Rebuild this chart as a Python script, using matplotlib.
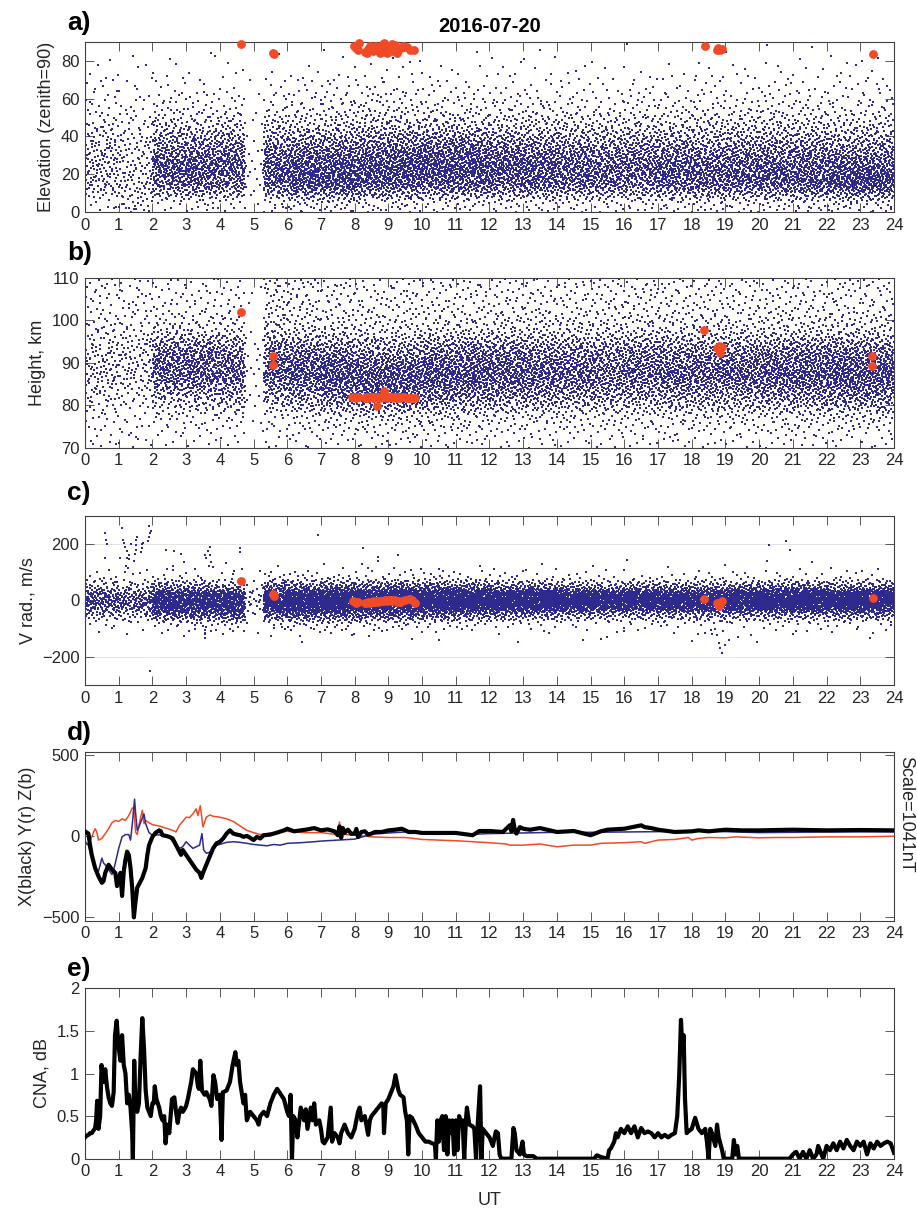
import numpy as np
import matplotlib
matplotlib.use("Agg")
import matplotlib.pyplot as plt

plt.rcParams['font.family'] = ['Liberation Sans', 'DejaVu Sans']

# ---------------- data ----------------
hours = list(range(0, 25))
title = "2016-07-20"

# blue point clouds: counts of points per (time bin, value bin)
cloud_time_edges = [0, 1, 2, 3, 4, 4.75, 5.3, 6, 7, 8, 9, 10, 11, 12, 13, 14, 15, 16,
                    17, 18, 19, 20, 21, 22, 23, 24]

a_elev_edges = [0, 10, 20, 30, 40, 50, 60, 70, 80, 90]
a_counts = [  # rows: elevation bins (low -> high); columns: time bins
    [10, 28, 10, 16, 8, 1, 13, 23, 23, 20, 20, 16, 16, 16, 16, 16, 16, 16, 18, 21, 18, 18, 21, 23, 23],
    [48, 32, 105, 120, 82, 6, 90, 158, 165, 150, 142, 135, 135, 128, 128, 120, 112, 112, 120, 128, 128, 135, 150, 172, 172],
    [48, 32, 135, 142, 98, 6, 98, 158, 158, 150, 158, 165, 158, 150, 142, 128, 120, 120, 128, 120, 128, 128, 135, 135, 128],
    [40, 26, 84, 91, 70, 4, 63, 98, 101, 105, 112, 119, 112, 98, 91, 84, 77, 84, 84, 77, 84, 84, 84, 77, 77],
    [24, 18, 42, 36, 30, 2, 30, 38, 42, 48, 48, 48, 42, 42, 42, 38, 36, 36, 36, 38, 38, 42, 36, 34, 36],
    [14, 10, 18, 15, 12, 2, 12, 18, 20, 22, 20, 18, 18, 18, 18, 16, 15, 16, 16, 18, 16, 18, 18, 15, 16],
    [8, 6, 8, 7, 6, 1, 6, 9, 10, 12, 10, 8, 8, 8, 8, 8, 7, 8, 8, 9, 8, 9, 9, 8, 9],
    [4, 4, 3, 2, 2, 1, 2, 3, 4, 5, 4, 3, 3, 4, 4, 3, 3, 3, 3, 4, 3, 4, 4, 4, 4],
    [1, 1, 1, 1, 0, 0, 1, 1, 1, 1, 1, 1, 1, 1, 1, 1, 0, 1, 0, 1, 1, 1, 1, 1, 1],
]

b_height_edges = [70, 75, 80, 85, 90, 95, 100, 105, 110]
b_counts = [
    [10, 10, 8, 8, 6, 1, 6, 10, 10, 12, 12, 12, 12, 10, 10, 10, 10, 10, 10, 10, 10, 10, 10, 10, 10],
    [14, 12, 18, 18, 14, 2, 14, 24, 30, 34, 36, 34, 30, 26, 26, 24, 24, 24, 26, 26, 26, 26, 30, 30, 30],
    [30, 22, 60, 68, 60, 4, 52, 90, 120, 142, 142, 120, 112, 105, 98, 90, 82, 82, 90, 90, 90, 98, 105, 112, 112],
    [45, 38, 135, 142, 105, 6, 98, 165, 172, 165, 165, 172, 165, 158, 150, 135, 128, 135, 142, 142, 150, 158, 165, 172, 172],
    [38, 38, 120, 128, 75, 4, 82, 120, 112, 90, 90, 112, 120, 112, 105, 98, 98, 105, 105, 105, 105, 112, 120, 120, 120],
    [22, 22, 36, 30, 24, 2, 30, 36, 34, 30, 30, 34, 34, 36, 36, 34, 34, 36, 34, 34, 34, 36, 36, 34, 34],
    [15, 15, 15, 15, 12, 2, 20, 22, 20, 18, 18, 18, 18, 20, 20, 20, 20, 20, 20, 20, 18, 20, 20, 20, 20],
    [15, 15, 12, 12, 10, 2, 20, 20, 18, 16, 16, 16, 16, 16, 16, 16, 18, 18, 16, 16, 16, 16, 16, 16, 16],
]

c_vel_edges = [-150, -100, -60, -30, 0, 30, 60, 100, 150]
c_counts = [
    [1, 1, 1, 2, 1, 0, 1, 2, 2, 1, 1, 1, 1, 1, 1, 1, 1, 1, 1, 3, 1, 1, 1, 1, 1],
    [6, 5, 12, 16, 14, 1, 10, 18, 18, 15, 14, 12, 10, 8, 7, 6, 6, 6, 6, 9, 7, 7, 7, 7, 7],
    [32, 26, 72, 80, 68, 4, 52, 85, 85, 78, 78, 72, 65, 58, 52, 46, 42, 43, 46, 52, 49, 49, 52, 52, 52],
    [68, 60, 135, 142, 105, 9, 98, 165, 172, 172, 172, 172, 172, 172, 172, 158, 150, 153, 153, 150, 158, 165, 168, 172, 172],
    [68, 60, 128, 125, 85, 9, 98, 158, 165, 172, 172, 180, 172, 172, 172, 158, 150, 155, 153, 150, 158, 168, 172, 177, 177],
    [29, 23, 49, 44, 27, 4, 43, 58, 62, 62, 65, 65, 62, 55, 52, 47, 43, 46, 47, 48, 49, 52, 52, 52, 52],
    [8, 6, 8, 7, 5, 1, 9, 10, 10, 10, 10, 10, 9, 7, 6, 6, 5, 5, 5, 7, 6, 6, 6, 6, 6],
    [1, 1, 1, 1, 1, 0, 1, 1, 1, 1, 1, 1, 1, 1, 1, 1, 1, 1, 1, 1, 1, 1, 1, 1, 1],
]
# isolated blue points in panel c (hour, m/s)
c_outliers = [(0.6, 240), (0.62, 215), (0.65, 200), (0.6, 150), (1.1, 255), (1.12, 215),
              (1.15, 205), (1.2, 190), (1.25, 175), (1.25, 150), (1.22, 120), (1.18, 100),
              (1.3, 145), (1.3, 160), (1.35, 200), (1.45, 140), (1.48, 165), (1.5, 180),
              (1.52, 195), (1.55, 225), (1.5, 215), (1.65, 170), (1.68, 185), (1.7, 200),
              (1.72, 205), (1.88, 210), (1.9, 225), (1.92, 240), (1.9, 262), (1.95, 245),
              (1.93, -250), (2.4, 178), (2.65, 175), (2.6, 120), (2.85, 165), (2.95, 135),
              (3.25, 110), (3.55, 160), (3.6, 150), (3.65, 175), (3.7, 190), (3.7, 160),
              (3.75, 135), (4.4, 95), (4.6, 170), (4.6, 185), (3.55, -120), (3.55, -135),
              (3.55, -105), (6.9, 230), (5.2, 105), (8.25, 185), (8.4, 115), (8.7, 155),
              (9.3, 160), (10.5, 110), (15.5, -130), (18.6, -120), (18.7, -100),
              (18.8, -150), (18.85, -170), (18.9, -185), (19.0, -160), (19.1, -140),
              (20.3, 195), (20.8, 210), (20.9, 180), (21.0, -120), (16.0, -110), (22.9, -100)]

# red (selected) events
a_red = [(4.62, 89), (5.59, 84), (5.6, 83.4), (7.99, 88), (8.05, 87), (8.09, 85.5), (8.12, 89.7),
         (8.3, 84.5), (8.37, 84), (8.41, 86.2), (8.45, 88), (8.51, 87.6), (8.55, 85), (8.61, 88),
         (8.66, 85.9), (8.7, 87), (8.76, 84.1), (8.8, 88.5), (8.86, 89.4), (8.91, 86.7),
         (8.96, 84.1), (9.0, 88), (9.06, 87.6), (9.1, 85), (9.16, 85.9), (9.2, 88.5),
         (9.26, 84.1), (9.3, 87), (9.36, 86.7), (9.42, 88), (9.46, 87.3), (9.55, 87.6),
         (9.65, 85.9), (9.75, 85.9), (8.5, 85.5), (8.6, 86.5), (8.9, 85.5), (9.1, 88.8),
         (18.38, 87.8), (18.74, 85.5), (18.77, 86.7), (18.89, 86.2), (18.84, 85.9), (23.37, 83.6)]
b_red = [(4.62, 102), (5.59, 91.6), (5.59, 89.5), (7.92, 82), (8.0, 82), (8.05, 81.8), (8.1, 82),
         (8.3, 81.6), (8.35, 82), (8.4, 81.8), (8.45, 82), (8.5, 82), (8.55, 81.7), (8.6, 82),
         (8.66, 79.9), (8.7, 82), (8.75, 81.8), (8.8, 82), (8.86, 83.4), (8.9, 82), (8.95, 81.8),
         (9.0, 82), (9.05, 81.9), (9.1, 82), (9.15, 81.7), (9.2, 82), (9.25, 81.8), (9.3, 82),
         (9.35, 81.6), (9.4, 82), (9.45, 81.9), (9.55, 81.8), (9.6, 81.8), (9.7, 81.8),
         (9.78, 81.8), (18.37, 97.7), (18.75, 93.5), (18.8, 93.9), (18.85, 92.2), (18.9, 93.8),
         (23.35, 91.5), (23.36, 89.2)]
c_red = [(4.62, 67), (5.59, 23), (5.6, 14), (7.95, -2), (8.0, -5), (8.05, -8), (8.1, -6),
         (8.3, -10), (8.35, -8), (8.4, -5), (8.45, -8), (8.5, -6), (8.55, -4), (8.6, -6),
         (8.65, -3), (8.7, -5), (8.75, -2), (8.8, -4), (8.85, -1), (8.9, 2), (8.95, -3),
         (9.0, 0), (9.05, 2), (9.1, -2), (9.15, 1), (9.2, 0), (9.25, -5), (9.3, -2), (9.35, -6),
         (9.4, -1), (9.5, 2), (9.6, 4), (9.65, 6), (9.7, 3), (9.78, -8), (18.37, 5),
         (18.75, -8), (18.8, -20), (18.85, -12), (18.9, -4), (23.37, 8)]

# magnetometer (nT)
d_x = [(0, 30), (0.1, 16), (0.15, -55), (0.2, -115), (0.3, -196), (0.4, -247), (0.5, -287),
       (0.55, -277), (0.6, -226), (0.7, -176), (0.8, -206), (0.9, -226), (0.95, -307),
       (1.0, -267), (1.05, -226), (1.1, -368), (1.15, -216), (1.2, -145), (1.25, -95),
       (1.3, -115), (1.35, -196), (1.4, -317), (1.45, -500), (1.5, -400), (1.55, -317),
       (1.6, -297), (1.7, -257), (1.8, -196), (1.85, -115), (1.9, -55), (2.0, -4), (2.1, 22),
       (2.2, 36), (2.25, 30), (2.3, 6), (2.4, 2), (2.5, -4), (2.6, -14), (2.7, -55), (2.8, -95),
       (2.85, -115), (2.9, -85), (3.0, -115), (3.1, -145), (3.2, -176), (3.3, -206),
       (3.4, -226), (3.45, -257), (3.5, -226), (3.6, -176), (3.7, -125), (3.8, -75),
       (3.9, -44), (4.0, -34), (4.1, -14), (4.2, 16), (4.3, 36), (4.4, 16), (4.5, 10),
       (4.6, 6), (4.7, -4), (4.8, 2), (4.9, -10), (5.0, -24), (5.1, -4), (5.2, -14), (5.3, 6),
       (5.5, 10), (5.7, 22), (5.9, 36), (6.0, 46), (6.2, 30), (6.4, 36), (6.6, 42), (6.8, 50),
       (7.0, 36), (7.2, 42), (7.4, 30), (7.5, 6), (7.55, 60), (7.6, -10), (7.65, 50),
       (7.7, 20), (7.8, 40), (7.9, 15), (8.0, 16), (8.05, 45), (8.1, -5), (8.2, 26),
       (8.3, 30), (8.4, 10), (8.5, 16), (8.6, 26), (8.8, 26), (9.0, 36), (9.2, 40), (9.4, 46),
       (9.6, 26), (9.8, 26), (10.0, 20), (10.5, 20), (11.0, 20), (11.5, 6), (11.7, 32),
       (12.0, 32), (12.4, 26), (12.6, 67), (12.65, 30), (12.7, 100), (12.75, 40), (12.8, 16),
       (12.9, 56), (13.0, 46), (13.2, 40), (13.5, 50), (14.0, 26), (14.3, 30), (14.5, 32),
       (15.0, 6), (15.3, 30), (15.5, 40), (16.0, 46), (16.5, 67), (16.6, 56), (16.8, 50),
       (17.0, 40), (17.5, 26), (18.0, 30), (18.2, 36), (18.5, 30), (19.0, 40), (19.5, 36),
       (20.0, 36), (20.5, 38), (21.0, 40), (22.0, 36), (23.0, 38), (24.0, 36)]
d_y = [(0, -40), (0.1, -55), (0.2, -4), (0.3, 46), (0.35, 26), (0.4, -24), (0.5, -14), (0.6, 16),
       (0.7, 46), (0.8, 83), (0.9, 97), (1.0, 91), (1.1, 107), (1.2, 97), (1.3, 127), (1.4, 172),
       (1.45, 178), (1.5, 26), (1.55, 10), (1.6, 67), (1.7, 160), (1.75, 77), (1.8, 97),
       (1.9, 83), (2.0, 71), (2.2, 63), (2.4, 50), (2.6, 36), (2.7, 26), (2.8, 67), (2.9, 91),
       (3.0, 117), (3.1, 115), (3.2, 137), (3.3, 168), (3.35, 127), (3.42, 188), (3.5, 57),
       (3.6, 117), (3.7, 131), (3.8, 123), (4.0, 117), (4.2, 107), (4.4, 91), (4.6, 63),
       (4.8, 36), (5.0, 22), (5.2, 10), (5.4, 16), (5.6, 22), (5.8, 26), (6.0, 30), (6.5, 22),
       (7.0, 22), (7.5, 10), (7.55, 87), (7.6, 12), (8.0, 6), (8.5, -4), (9.0, -8), (9.5, -8),
       (10.0, -20), (10.5, -24), (11.0, -28), (12.0, -40), (12.5, -48), (12.6, -55),
       (13.0, -55), (13.5, -48), (14.0, -65), (14.5, -55), (15.0, -55), (15.3, -44),
       (16.0, -40), (16.5, -34), (16.6, -44), (17.0, -24), (17.5, -20), (17.9, -8),
       (18.0, -24), (18.2, -14), (18.5, -8), (19.0, -10), (19.3, -4), (20.0, -10),
       (20.5, -8), (21.0, -8), (22.0, -4), (23.0, -4), (24.0, 0)]
d_z = [(0, -34), (0.1, -55), (0.2, -135), (0.3, -196), (0.4, -216), (0.45, -176), (0.5, -135),
       (0.55, -165), (0.6, -176), (0.7, -206), (0.8, -236), (0.85, -206), (0.9, -165),
       (1.0, -75), (1.1, -4), (1.2, 10), (1.3, 10), (1.35, -24), (1.4, 67), (1.47, 228),
       (1.5, 147), (1.55, 36), (1.6, 57), (1.7, 111), (1.75, 137), (1.8, 77), (1.9, 22),
       (2.0, 6), (2.2, 8), (2.4, 6), (2.5, -4), (2.6, -34), (2.7, -65), (2.8, -75), (2.9, -65),
       (3.0, -34), (3.1, -55), (3.2, -75), (3.3, -65), (3.4, -55), (3.47, 16), (3.52, -85),
       (3.6, -105), (3.7, -99), (3.8, -75), (3.9, -55), (4.0, -51), (4.1, -44), (4.2, -38),
       (4.4, -34), (4.6, -38), (4.8, -44), (5.0, -51), (5.2, -55), (5.4, -59), (5.6, -51),
       (5.8, -55), (6.0, -44), (6.4, -40), (6.8, -34), (7.0, -30), (7.5, -24), (8.0, -18),
       (8.5, 12), (9.0, 20), (9.5, 26), (10.0, 26), (11.0, 20), (11.5, 12), (12.0, 16),
       (13.0, 20), (14.0, 24), (15.0, 24), (16.0, 26), (17.0, 28), (18.0, 32), (19.0, 28),
       (20.0, 22), (21.0, 24), (22.0, 26), (23.0, 27), (24.0, 27)]
d_scale_text = "Scale=1041nT"

# cosmic noise absorption (dB)
e_cna = [(0.0, 0.25), (0.05, 0.27), (0.1, 0.28), (0.15, 0.3), (0.2, 0.3), (0.25, 0.33), (0.3, 0.36),
         (0.33, 0.45), (0.36, 0.68), (0.4, 0.35), (0.45, 0.5), (0.49, 1.1), (0.53, 0.95),
         (0.57, 0.9), (0.6, 1.05), (0.65, 0.85), (0.7, 0.72), (0.75, 0.65), (0.8, 0.62),
         (0.85, 0.78), (0.89, 1.45), (0.94, 1.62), (0.97, 1.45), (1.0, 1.3), (1.05, 1.15),
         (1.1, 1.45), (1.15, 1.1), (1.2, 1.0), (1.25, 0.65), (1.3, 0.75), (1.35, 0.6),
         (1.4, 0.3), (1.42, 0.0), (1.44, 0.6), (1.46, 1.15), (1.5, 0.6), (1.55, 0.55),
         (1.6, 0.65), (1.65, 1.2), (1.7, 1.65), (1.75, 1.3), (1.8, 0.8), (1.85, 0.6),
         (1.9, 0.55), (1.95, 0.5), (2.0, 0.65), (2.04, 0.65), (2.07, 0.85), (2.12, 0.7),
         (2.2, 0.6), (2.25, 0.5), (2.3, 0.45), (2.35, 0.5), (2.39, 0.18), (2.44, 0.4),
         (2.5, 0.3), (2.55, 0.55), (2.58, 0.7), (2.65, 0.72), (2.7, 0.55), (2.75, 0.42),
         (2.8, 0.55), (2.85, 0.6), (2.9, 0.55), (2.95, 0.58), (3.0, 0.62), (3.05, 0.7),
         (3.1, 0.8), (3.15, 0.9), (3.2, 1.05), (3.3, 1.0), (3.35, 0.85), (3.38, 0.82),
         (3.42, 1.15), (3.47, 0.8), (3.55, 0.75), (3.6, 0.78), (3.7, 0.7), (3.75, 0.62),
         (3.81, 0.98), (3.86, 0.9), (3.92, 0.7), (4.0, 0.75), (4.05, 0.22), (4.09, 0.78),
         (4.2, 0.8), (4.3, 0.9), (4.38, 1.1), (4.46, 1.25), (4.5, 1.1), (4.55, 1.15),
         (4.6, 0.9), (4.7, 0.65), (4.75, 0.75), (4.8, 0.45), (4.9, 0.55), (5.0, 0.5),
         (5.1, 0.45), (5.15, 0.4), (5.2, 0.5), (5.3, 0.55), (5.4, 0.5), (5.5, 0.65),
         (5.6, 0.75), (5.7, 0.82), (5.8, 0.76), (5.9, 0.7), (6.0, 0.55), (6.05, 0.5),
         (6.1, 0.75), (6.14, 0.0), (6.18, 0.5), (6.25, 0.45), (6.3, 0.25), (6.4, 0.6),
         (6.5, 0.45), (6.55, 0.58), (6.6, 0.35), (6.7, 0.6), (6.75, 0.45), (6.8, 0.65),
         (6.85, 0.4), (6.95, 0.45), (7.0, 0.35), (7.05, 0.2), (7.1, 0.18), (7.2, 0.25),
         (7.29, 0.6), (7.33, 0.2), (7.4, 0.3), (7.5, 0.25), (7.55, 0.18), (7.6, 0.3),
         (7.7, 0.4), (7.8, 0.3), (7.9, 0.25), (8.0, 0.35), (8.1, 0.55), (8.15, 0.6),
         (8.2, 0.45), (8.3, 0.5), (8.4, 0.28), (8.45, 0.45), (8.5, 0.5), (8.6, 0.55),
         (8.7, 0.6), (8.8, 0.65), (8.85, 0.62), (8.87, 0.3), (8.92, 0.65), (9.0, 0.7),
         (9.1, 0.8), (9.15, 0.85), (9.21, 0.98), (9.3, 0.8), (9.35, 0.75), (9.45, 0.72),
         (9.5, 0.55), (9.55, 0.45), (9.59, 0.05), (9.63, 0.5), (9.7, 0.48), (9.8, 0.4),
         (9.9, 0.3), (10.0, 0.25), (10.1, 0.2), (10.2, 0.2), (10.3, 0.18), (10.38, 0.17),
         (10.41, 0.0), (10.45, 0.45), (10.5, 0.2), (10.55, 0.45), (10.6, 0.5), (10.65, 0.1),
         (10.7, 0.5), (10.75, 0.05), (10.8, 0.45), (10.85, 0.3), (10.9, 0.45), (10.95, 0.05),
         (11.0, 0.45), (11.05, 0.1), (11.1, 0.5), (11.15, 0.4), (11.2, 0.45), (11.25, 0.0),
         (11.3, 0.45), (11.33, 0.6), (11.4, 0.4), (11.5, 0.38), (11.55, 0.35), (11.6, 0.0),
         (11.65, 0.4), (11.72, 0.85), (11.76, 0.0), (11.8, 0.35), (11.9, 0.3), (12.0, 0.25),
         (12.1, 0.15), (12.15, 0.25), (12.19, 0.32), (12.25, 0.3), (12.3, 0.05), (12.35, 0.0),
         (12.65, 0.0), (12.71, 0.36), (12.75, 0.3), (12.8, 0.1), (12.9, 0.05), (12.98, 0.2),
         (13.02, 0.05), (13.1, 0.03), (13.3, 0.03), (13.4, 0.0), (15.1, 0.0), (15.19, 0.04),
         (15.3, 0.02), (15.5, 0.0), (15.55, 0.1), (15.6, 0.12), (15.7, 0.2), (15.75, 0.3),
         (15.8, 0.25), (15.9, 0.35), (16.0, 0.3), (16.1, 0.38), (16.2, 0.3), (16.3, 0.38),
         (16.4, 0.25), (16.5, 0.36), (16.6, 0.3), (16.7, 0.32), (16.8, 0.3), (16.9, 0.25),
         (17.0, 0.3), (17.1, 0.25), (17.2, 0.28), (17.3, 0.25), (17.4, 0.28), (17.5, 0.3),
         (17.57, 0.5), (17.63, 1.0), (17.68, 1.63), (17.72, 1.3), (17.76, 1.45), (17.8, 0.7),
         (17.85, 0.3), (17.9, 0.32), (18.0, 0.35), (18.1, 0.48), (18.2, 0.35), (18.3, 0.3),
         (18.4, 0.35), (18.45, 0.2), (18.5, 0.0), (18.55, 0.35), (18.6, 0.3), (18.7, 0.15),
         (18.75, 0.4), (18.8, 0.25), (18.9, 0.1), (18.95, 0.0), (19.2, 0.0), (19.25, 0.22),
         (19.3, 0.05), (19.35, 0.15), (19.4, 0.0), (20.9, 0.0), (21.0, 0.05), (21.1, 0.08),
         (21.2, 0.0), (21.3, 0.08), (21.4, 0.0), (21.5, 0.1), (21.6, 0.0), (21.7, 0.05),
         (21.75, 0.15), (21.8, 0.1), (21.9, 0.0), (22.0, 0.15), (22.1, 0.1), (22.2, 0.18),
         (22.3, 0.1), (22.4, 0.2), (22.5, 0.12), (22.6, 0.22), (22.7, 0.15), (22.8, 0.1),
         (22.9, 0.2), (23.0, 0.15), (23.1, 0.2), (23.2, 0.05), (23.3, 0.18), (23.4, 0.12),
         (23.5, 0.2), (23.6, 0.15), (23.7, 0.18), (23.8, 0.2), (23.9, 0.18), (24.0, 0.07)]

# ---------------- style ----------------
BLUE = '#2E2A8E'
RED = '#F04A26'
TXT = '#262626'
SPINE = '#404040'
W, H = 917, 1214
TICK_FS = 12
LAB_FS = 13


def halton(n, base):
    """Deterministic low-discrepancy sequence (layout only)."""
    idx = np.arange(1, n + 1)
    res = np.zeros(n)
    f = 1.0
    while np.any(idx > 0):
        f /= base
        res += f * (idx % base)
        idx = idx // base
    return res


def cloud_points(t_edges, v_edges, counts):
    """Lay out the counted points: time by the per-bin totals, value by the bin profile
    (profile linearly joined between bin centres so the band edges are not blocky)."""
    counts = np.asarray(counts, float)
    t_edges = np.asarray(t_edges, float)
    v_edges = np.asarray(v_edges, float)
    col = counts.sum(axis=0)
    n = int(col.sum())
    u = halton(n, 2)
    w = halton(n, 3)
    cdf_t = np.concatenate([[0.0], np.cumsum(col)]) / col.sum()
    x = np.interp(u, cdf_t, t_edges)
    j_of = np.clip(np.searchsorted(t_edges, x, side='right') - 1, 0, len(col) - 1)
    widths = np.diff(v_edges)
    centres = v_edges[:-1] + widths / 2
    grid = np.linspace(v_edges[0], v_edges[-1], 800)
    y = np.empty(n)
    for j in range(len(col)):
        m = j_of == j
        if not m.any():
            continue
        dens = np.interp(grid, centres, counts[:, j] / widths) + 1e-9
        cdf = np.concatenate([[0.0], np.cumsum((dens[1:] + dens[:-1]) / 2)])
        cdf /= cdf[-1]
        y[m] = np.interp(w[m], cdf, grid)
    return x, y


fig = plt.figure(figsize=(W / 100, H / 100), dpi=100)


def make_ax(top_px, bot_px):
    left, right = 85 / W, 894 / W
    ax = fig.add_axes([left, 1 - bot_px / H, right - left, (bot_px - top_px) / H])
    ax.set_xlim(0, 24)
    ax.set_xticks(hours)
    ax.tick_params(direction='in', top=True, right=True, length=6.5, width=0.6,
                   color=SPINE, labelcolor=TXT, labelsize=TICK_FS, pad=4)
    for s in ax.spines.values():
        s.set_color(SPINE)
        s.set_linewidth(0.8)
    return ax


def panel_label(txt, top_px):
    fig.text(67 / W, 1 - top_px / H, txt, fontsize=19, fontweight='bold', color='black',
             ha='left', va='top')


def unzip(pairs):
    t, v = zip(*pairs)
    return np.array(t), np.array(v)


# ---- a) elevation
axa = make_ax(42, 212)
x, y = cloud_points(cloud_time_edges, a_elev_edges, a_counts)
axa.scatter(x, y, s=3.5, marker='s', c=BLUE, linewidths=0, zorder=2)
t, v = unzip(a_red)
axa.scatter(t, v, s=40, c=RED, linewidths=0, zorder=3, clip_on=False)
axa.set_ylim(0, 90)
axa.set_yticks([0, 20, 40, 60, 80])
axa.set_ylabel('Elevation (zenith=90)', fontsize=LAB_FS, color=TXT)
panel_label('a)', 11)
fig.text(489.5 / W, 1 - 32 / H, title, fontsize=14.5, fontweight='bold', ha='center',
         va='baseline', color='black')

# ---- b) height
axb = make_ax(277.7, 447.7)
x, y = cloud_points(cloud_time_edges, b_height_edges, b_counts)
axb.scatter(x, y, s=3.5, marker='s', c=BLUE, linewidths=0, zorder=2)
t, v = unzip(b_red)
axb.scatter(t, v, s=40, c=RED, linewidths=0, zorder=3)
axb.set_ylim(70, 110)
axb.set_yticks([70, 80, 90, 100, 110])
axb.set_ylabel('Height, km', fontsize=LAB_FS, color=TXT)
panel_label('b)', 241)

# ---- c) radial velocity
axc = make_ax(515.7, 685)
x, y = cloud_points(cloud_time_edges, c_vel_edges, c_counts)
t, v = unzip(c_outliers)
axc.scatter(np.concatenate([x, t]), np.concatenate([y, v]), s=3.5, marker='s', c=BLUE,
            linewidths=0, zorder=2)
t, v = unzip(c_red)
axc.scatter(t, v, s=40, c=RED, linewidths=0, zorder=3)
axc.set_ylim(-300, 300)
axc.set_yticks([-200, 0, 200])
axc.yaxis.grid(True, color='#e3e3e3', linewidth=0.7)
axc.set_axisbelow(True)
axc.set_ylabel('V rad., m/s', fontsize=LAB_FS, color=TXT)
panel_label('c)', 481)

# ---- d) magnetometer
axd = make_ax(751.7, 920.7)
t, v = unzip(d_y)
axd.plot(t, v, color=RED, lw=1.1, zorder=2)
t, v = unzip(d_z)
axd.plot(t, v, color=BLUE, lw=1.1, zorder=3)
t, v = unzip(d_x)
axd.plot(t, v, color='black', lw=3.0, zorder=4)
axd.set_ylim(-520.5, 520.5)
axd.set_yticks([-500, 0, 500])
axd.set_ylabel('X(black) Y(r) Z(b)', fontsize=LAB_FS, color=TXT)
fig.text(906 / W, 1 - 814 / H, d_scale_text, rotation=270, fontsize=LAB_FS, color=TXT,
         ha='center', va='center')
panel_label('d)', 721)

# ---- e) CNA
axe = make_ax(988.3, 1158.7)
t, v = unzip(e_cna)
axe.plot(t, v, color='black', lw=3.0, zorder=3)
axe.set_ylim(0, 2)
axe.set_yticks([0, 0.5, 1, 1.5, 2])
axe.set_yticklabels(['0', '0.5', '1', '1.5', '2'])
axe.set_ylabel('CNA, dB', fontsize=LAB_FS, color=TXT)
axe.set_xlabel('UT', fontsize=LAB_FS, color=TXT, labelpad=9)
panel_label('e)', 957)

fig.savefig('out.png', dpi=100)
